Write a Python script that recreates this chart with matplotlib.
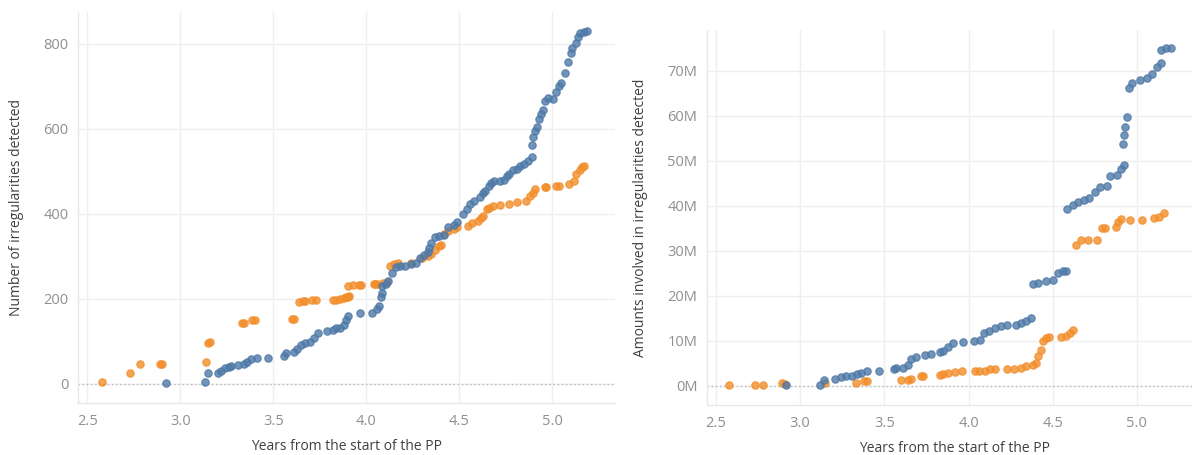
import matplotlib
matplotlib.use("Agg")
import matplotlib.pyplot as plt
from matplotlib.ticker import FuncFormatter

plt.rcParams['font.family'] = ['Open Sans', 'DejaVu Sans']

# ---------------- data: left chart (number of irregularities) ----------------
count_blue_x = [2.92, 3.13, 3.15, 3.20, 3.22, 3.24, 3.26, 3.27, 3.31, 3.34, 3.36, 3.38, 3.41,
                3.47, 3.56, 3.57, 3.61, 3.63, 3.65, 3.67, 3.70, 3.72, 3.74, 3.79, 3.82, 3.84,
                3.86, 3.88, 3.89, 3.90, 3.965, 4.03, 4.06, 4.07, 4.08, 4.085, 4.085, 4.105,
                4.12, 4.14, 4.16, 4.18, 4.21, 4.24, 4.27, 4.29, 4.31, 4.33, 4.34, 4.35, 4.37,
                4.39, 4.42, 4.44, 4.47, 4.49, 4.52, 4.54, 4.56, 4.58, 4.61, 4.63, 4.64, 4.66,
                4.67, 4.69, 4.72, 4.74, 4.76, 4.77, 4.79, 4.81, 4.83, 4.85, 4.87, 4.89, 4.89,
                4.90, 4.91, 4.92, 4.93, 4.94, 4.95, 4.96, 4.98, 5.005, 5.02, 5.04, 5.05, 5.07,
                5.085, 5.10, 5.11, 5.13, 5.14, 5.15, 5.17, 5.19]
count_blue_y = [1, 4, 24, 26, 31, 36, 40, 42, 45, 46, 52, 58, 60,
                60, 64, 73, 74, 82, 91, 95, 97, 107, 119, 123, 127, 131,
                132, 138, 150, 160, 166, 167, 175, 183, 205, 213, 230, 234,
                242, 260, 274, 276, 278, 281, 284, 296, 304, 309, 319, 331, 346,
                347, 351, 368, 374, 380, 399, 412, 423, 431, 439, 449, 454, 466,
                472, 478, 478, 480, 488, 494, 502, 506, 512, 516, 525, 533, 561,
                581, 595, 604, 624, 635, 644, 665, 672, 671, 687, 700, 707, 731,
                758, 778, 790, 802, 815, 825, 829, 831]

count_orange_x = [2.58, 2.73, 2.78, 2.89, 2.90, 3.14, 3.15, 3.16, 3.33, 3.34, 3.385, 3.40,
                  3.60, 3.61, 3.64, 3.66, 3.67, 3.71, 3.73, 3.82, 3.84, 3.86, 3.88, 3.89,
                  3.90, 3.91, 3.90, 3.93, 3.96, 3.97, 4.04, 4.05, 4.06, 4.09, 4.11, 4.13,
                  4.15, 4.17, 4.24, 4.30, 4.33, 4.35, 4.37, 4.39, 4.40, 4.42, 4.44, 4.47,
                  4.49, 4.55, 4.57, 4.60, 4.62, 4.63, 4.65, 4.66, 4.68, 4.72, 4.77, 4.81,
                  4.86, 4.88, 4.90, 4.91, 4.96, 4.97, 5.02, 5.04, 5.09, 5.12, 5.13, 5.15,
                  5.16, 5.17]
count_orange_y = [4, 25, 46, 46, 46, 50, 95, 97, 144, 144, 149, 150,
                  152, 152, 193, 194, 195, 196, 197, 198, 198, 200, 201, 203,
                  204, 207, 230, 232, 232, 232, 235, 235, 235, 237, 239, 276,
                  282, 284, 284, 296, 300, 305, 314, 323, 327, 352, 359, 364,
                  368, 372, 379, 383, 389, 395, 411, 414, 418, 421, 424, 427,
                  431, 441, 449, 458, 462, 462, 465, 466, 470, 478, 494, 504,
                  510, 512]

# ---------------- data: right chart (amounts, in millions) ----------------
amount_blue_x = [2.915, 3.12, 3.14, 3.21, 3.24, 3.27, 3.31, 3.34, 3.36, 3.40, 3.47, 3.56,
                 3.57, 3.61, 3.64, 3.66, 3.69, 3.74, 3.78, 3.83, 3.85, 3.88, 3.91, 3.97,
                 4.03, 4.07, 4.09, 4.12, 4.16, 4.19, 4.23, 4.28, 4.31, 4.34, 4.37, 4.38,
                 4.41, 4.46, 4.50, 4.53, 4.56, 4.58, 4.583, 4.623, 4.653, 4.683, 4.716,
                 4.752, 4.782, 4.821, 4.841, 4.881, 4.905, 4.921, 4.917, 4.925, 4.931,
                 4.941, 4.950, 4.970, 5.02, 5.06, 5.09, 5.12, 5.14, 5.143, 5.17, 5.20]
amount_blue_y = [0.05, 0.05, 1.3, 1.5, 1.9, 2.1, 2.1, 2.5, 2.8, 3.2, 3.2, 3.6,
                 3.9, 3.9, 4.7, 5.9, 6.3, 6.9, 7.0, 7.4, 7.6, 8.7, 9.5, 9.7,
                 9.9, 10.2, 11.7, 12.1, 12.8, 13.2, 13.5, 13.6, 13.9, 14.3, 15.0, 22.7,
                 22.8, 23.2, 23.6, 25.0, 25.4, 25.4, 39.4, 40.2, 40.9, 41.3, 41.7,
                 43.0, 44.2, 44.5, 46.6, 46.9, 48.1, 49.0, 53.8, 55.7, 57.5,
                 59.8, 66.3, 67.4, 67.9, 68.5, 69.3, 70.8, 71.7, 74.7, 75.1, 75.1]

amount_orange_x = [2.58, 2.73, 2.78, 2.89, 2.91, 3.15, 3.33, 3.38, 3.40, 3.60, 3.64, 3.66,
                   3.72, 3.73, 3.83, 3.85, 3.88, 3.92, 3.96, 4.04, 4.06, 4.10, 4.13, 4.16,
                   4.23, 4.27, 4.31, 4.34, 4.38, 4.40, 4.41, 4.43, 4.44, 4.46, 4.48, 4.55,
                   4.58, 4.60, 4.62, 4.64, 4.67, 4.71, 4.76, 4.79, 4.81, 4.877, 4.89,
                   4.906, 4.96, 5.03, 5.10, 5.13, 5.16]
amount_orange_y = [0.05, 0.05, 0.05, 0.7, 0.4, 0.6, 0.6, 1.0, 1.1, 1.2, 1.3, 1.5,
                   2.2, 2.2, 2.4, 2.7, 2.8, 3.0, 3.2, 3.2, 3.2, 3.3, 3.6, 3.7,
                   3.7, 3.7, 4.0, 4.3, 4.7, 5.0, 6.5, 8.0, 9.9, 10.6, 10.8, 10.8,
                   11.0, 11.7, 12.4, 31.3, 32.3, 32.3, 32.4, 35.1, 35.1, 35.3, 36.4,
                   37.0, 36.8, 36.8, 37.2, 37.6, 38.5]

x_ticks = [2.5, 3.0, 3.5, 4.0, 4.5, 5.0]
count_ticks = [0, 200, 400, 600, 800]
amount_ticks = [0, 10, 20, 30, 40, 50, 60, 70]

BLUE = '#4e79a7'
ORANGE = '#f28e2b'
GRID = '#efefef'
TICK_C = '#8f8f8f'
TITLE_C = '#404040'

fig = plt.figure(figsize=(11.92, 4.55), dpi=100)
ax1 = fig.add_axes([78/1192, 1-403/455, 537/1192, 391/455])
ax2 = fig.add_axes([707/1192, 1-405/455, 485/1192, 375/455])


def style(ax, yticks, ylabel, fmt=None):
    ax.set_xticks(x_ticks)
    ax.set_xticklabels([f"{t:.1f}" for t in x_ticks])
    ax.set_yticks(yticks)
    if fmt:
        ax.yaxis.set_major_formatter(FuncFormatter(fmt))
    ax.grid(True, color=GRID, linewidth=1.0, zorder=0)
    ax.set_axisbelow(True)
    for s in ['top', 'right']:
        ax.spines[s].set_visible(False)
    for s in ['left', 'bottom']:
        ax.spines[s].set_color('#e8e8e8')
        ax.spines[s].set_linewidth(1.0)
    ax.tick_params(length=0, labelsize=10.5, colors=TICK_C)
    ax.tick_params(axis='x', pad=8)
    ax.tick_params(axis='y', pad=7)
    ax.axhline(0, color='#b8b8b8', linestyle=(0, (1, 2)), linewidth=1.0, zorder=1)
    ax.set_xlabel("Years from the start of the PP", fontsize=10, color=TITLE_C, va='center')
    ax.set_ylabel(ylabel, fontsize=10, color=TITLE_C, va='center')


def dots(ax, x, y, c):
    ax.scatter(x, y, s=28, facecolor=c, edgecolor=c, linewidths=0.9, alpha=0.8, zorder=3)


dots(ax1, count_orange_x, count_orange_y, ORANGE)
dots(ax1, count_blue_x, count_blue_y, BLUE)
style(ax1, count_ticks, "Number of irregularities detected")
ax1.set_xlim(2.449, 5.339)
ax1.set_ylim(-45.5, 875)
ax1.xaxis.set_label_coords(0.5, -0.1125)
ax1.yaxis.set_label_coords(-0.1136, 0.5)

dots(ax2, amount_orange_x, amount_orange_y, ORANGE)
dots(ax2, amount_blue_x, amount_blue_y, BLUE)
style(ax2, amount_ticks, "Amounts involved in irregularities detected",
      fmt=lambda v, p: f"{v:.0f}M")
ax2.set_xlim(2.447, 5.327)
ax2.set_ylim(-4.3, 79.1)
ax2.xaxis.set_label_coords(0.51, -0.117)
ax2.yaxis.set_label_coords(-0.138, 0.5)

fig.savefig("out.png", dpi=100)
